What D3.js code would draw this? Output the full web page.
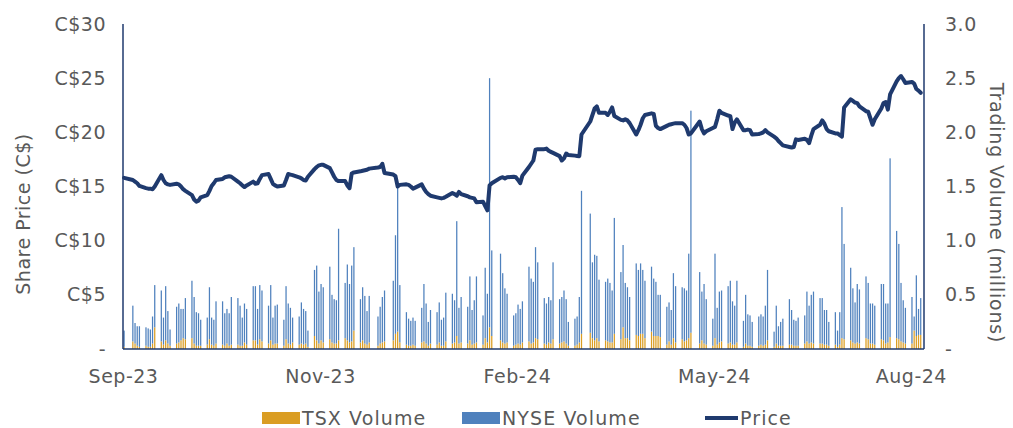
<!DOCTYPE html>
<html>
<head>
<meta charset="utf-8">
<style>
body { margin: 0; background: #fff; }
text { font-family: "DejaVu Sans", sans-serif; fill: #595959; letter-spacing: 0.5px; }
</style>
</head>
<body>
<svg id="chart" width="1013" height="428"></svg>
<script src="https://cdn.jsdelivr.net/npm/d3@7"></script>
<script>
// trading days Sep-23 .. Aug-24 (weekdays, minus these closures)
const startDay = "2023-09-01";
const endDay = "2024-08-30";
const holidays = ["2023-09-04", "2023-12-25", "2024-01-01", "2024-02-19", "2024-03-29", "2024-05-20"];

const tickDates = ["2023-09-01", "2023-11-30", "2024-02-28", "2024-05-28", "2024-08-26"];
const leftTicks = [0, 5, 10, 15, 20, 25, 30];
const rightTicks = [0, 0.5, 1.0, 1.5, 2.0, 2.5, 3.0];

// share price C$, one line per month
const price = [
  15.8, 15.6, 15.45, 15.3, 15.05, 14.85, 14.8, 14.8, 14.75, 15.0, 16.05, 15.6, 15.3, 15.2, 15.15, 15.25, 15.2, 15.0, 14.75, 14.6,
  14.2, 13.8, 13.6, 13.7, 14.0, 14.2, 14.6, 15.05, 15.3, 15.6, 15.7, 15.85, 15.9, 15.95, 15.9, 15.45, 15.3, 15.1, 14.95, 15.1, 15.45, 15.25,
  15.3, 15.7, 16.05, 16.15, 15.7, 15.25, 15.1, 15.0, 15.1, 15.6, 16.15, 16.1, 16.05, 15.85, 15.75, 15.6, 15.55, 15.9, 16.6, 16.8, 16.95, 17.0,
  17.0, 16.7, 16.3, 15.9, 15.6, 15.5, 15.5, 15.1, 14.85, 16.2, 16.3, 16.4, 16.45, 16.5, 16.55, 16.65, 16.75, 16.8, 17.1, 16.25,
  16.1, 15.95, 15.0, 15.15, 15.2, 15.15, 15.0, 14.8, 14.9, 15.2, 14.8, 14.5, 14.3, 14.15, 14.0, 13.95, 13.9, 13.95, 14.05, 14.4, 14.3, 14.15,
  14.5, 14.3, 14.1, 14.0, 13.95, 13.9, 13.55, 13.6, 13.2, 12.8, 15.1, 15.3, 15.8, 15.85, 15.75, 15.85, 15.9, 15.85, 15.6, 15.3,
  16.0, 16.8, 17.1, 17.4, 18.4, 18.45, 18.45, 18.5, 18.3, 18.2, 18.1, 17.8, 17.4, 17.6, 18.05, 17.9, 17.85, 17.82, 17.8, 19.8,
  21.0, 21.6, 22.2, 22.4, 21.8, 21.8, 21.6, 21.9, 22.3, 21.5, 21.15, 21.1, 21.2, 21.1, 20.85, 19.8, 20.2, 20.7, 21.3, 21.6, 21.75, 21.7,
  20.6, 20.4, 20.3, 20.6, 20.7, 20.75, 20.8, 20.85, 20.85, 20.7, 20.4, 19.8, 19.9, 21.0, 20.3, 19.9, 20.1, 20.4, 20.5, 21.2, 22.0, 21.8,
  21.55, 21.5, 20.3, 20.9, 21.2, 20.2, 20.2, 20.25, 20.2, 19.8, 19.85, 19.9, 20.0, 20.2, 20.0, 19.6, 19.45, 19.2, 19.0, 18.8,
  18.65, 18.6, 18.65, 19.35, 19.3, 19.4, 19.3, 19.0, 19.7, 20.3, 20.7, 21.1, 20.8, 20.3, 20.1, 19.9, 19.9, 19.75, 19.6, 22.3, 23.05, 22.9, 22.75,
  22.7, 22.4, 21.95, 21.9, 21.3, 20.7, 21.2, 22.2, 22.7, 22.8, 22.1, 23.5, 24.7, 25.0, 25.2, 24.9, 24.55, 24.65, 24.5, 24.0, 23.85, 23.65
];

// TSX volume, millions
const tsxVolume = [
  0.02, 0.07, 0.05, 0.03, 0.02, 0.03, 0.02, 0.02, 0.05, 0.20, 0.07, 0.04, 0.08, 0.05, 0.03, 0.05, 0.06, 0.08, 0.10, 0.09,
  0.10, 0.05, 0.03, 0.03, 0.03, 0.04, 0.09, 0.04, 0.03, 0.05, 0.04, 0.03, 0.05, 0.03, 0.04, 0.04, 0.03, 0.03, 0.06, 0.04, 0.08, 0.08,
  0.04, 0.09, 0.07, 0.05, 0.08, 0.04, 0.05, 0.05, 0.03, 0.09, 0.05, 0.04, 0.06, 0.04, 0.05, 0.04, 0.05, 0.02, 0.12, 0.08, 0.05, 0.08,
  0.06, 0.09, 0.06, 0.05, 0.05, 0.08, 0.10, 0.08, 0.06, 0.07, 0.17, 0.06, 0.08, 0.05, 0.04, 0.06, 0.03, 0.05, 0.06, 0.07,
  0.08, 0.14, 0.16, 0.06, 0.04, 0.03, 0.03, 0.04, 0.03, 0.06, 0.07, 0.05, 0.03, 0.05, 0.04, 0.06, 0.03, 0.03, 0.07, 0.05, 0.06, 0.12,
  0.05, 0.06, 0.05, 0.08, 0.04, 0.05, 0.06, 0.04, 0.10, 0.06, 0.20, 0.12, 0.08, 0.06, 0.05, 0.06, 0.03, 0.04, 0.05, 0.04,
  0.06, 0.07, 0.05, 0.06, 0.10, 0.09, 0.05, 0.04, 0.06, 0.05, 0.09, 0.05, 0.06, 0.07, 0.05, 0.03, 0.03, 0.04, 0.06, 0.14,
  0.15, 0.10, 0.08, 0.10, 0.07, 0.08, 0.07, 0.06, 0.06, 0.14, 0.09, 0.20, 0.10, 0.10, 0.08, 0.13, 0.12, 0.14, 0.14, 0.10, 0.16, 0.12,
  0.12, 0.12, 0.11, 0.04, 0.07, 0.04, 0.10, 0.06, 0.09, 0.07, 0.08, 0.10, 0.15, 0.05, 0.08, 0.05, 0.04, 0.03, 0.10, 0.04, 0.06, 0.07,
  0.05, 0.06, 0.04, 0.04, 0.06, 0.02, 0.05, 0.03, 0.03, 0.02, 0.03, 0.04, 0.03, 0.04, 0.08, 0.02, 0.05, 0.03, 0.03, 0.03,
  0.04, 0.04, 0.03, 0.03, 0.03, 0.05, 0.07, 0.05, 0.06, 0.05, 0.05, 0.05, 0.04, 0.04, 0.03, 0.04, 0.02, 0.04, 0.10, 0.09, 0.08, 0.06, 0.05,
  0.06, 0.05, 0.10, 0.09, 0.05, 0.05, 0.04, 0.09, 0.08, 0.05, 0.06, 0.11, 0.10, 0.09, 0.07, 0.06, 0.05, 0.05, 0.17, 0.12, 0.13, 0.13
];

// NYSE volume, millions
const nyseVolume = [
  0.15, 0.33, 0.19, 0.18, 0.19, 0.17, 0.17, 0.16, 0.25, 0.39, 0.47, 0.25, 0.50, 0.30, 0.15, 0.34, 0.36, 0.29, 0.27, 0.38,
  0.53, 0.43, 0.31, 0.30, 0.24, 0.25, 0.48, 0.25, 0.24, 0.39, 0.40, 0.30, 0.32, 0.30, 0.44, 0.43, 0.37, 0.26, 0.36, 0.33, 0.50, 0.50,
  0.33, 0.50, 0.47, 0.35, 0.51, 0.25, 0.35, 0.36, 0.24, 0.49, 0.37, 0.34, 0.23, 0.26, 0.38, 0.33, 0.30, 0.15, 0.61, 0.69, 0.48, 0.52,
  0.51, 0.67, 0.44, 0.41, 0.40, 1.03, 0.51, 0.70, 0.54, 0.70, 0.77, 0.40, 0.49, 0.44, 0.31, 0.43, 0.27, 0.34, 0.42, 0.47,
  0.55, 0.91, 1.34, 0.53, 0.30, 0.25, 0.23, 0.25, 0.23, 0.32, 0.53, 0.37, 0.22, 0.31, 0.30, 0.37, 0.24, 0.26, 0.45, 0.46, 0.39, 1.06,
  0.33, 0.42, 0.34, 0.59, 0.32, 0.40, 0.61, 0.27, 0.65, 0.45, 2.30, 0.79, 0.80, 0.64, 0.51, 0.45, 0.28, 0.29, 0.36, 0.33,
  0.38, 0.69, 0.60, 0.56, 0.84, 0.71, 0.42, 0.38, 0.42, 0.40, 0.71, 0.41, 0.42, 0.47, 0.41, 0.22, 0.25, 0.26, 0.42, 1.32,
  1.10, 0.70, 0.79, 0.76, 0.57, 0.54, 0.58, 0.55, 0.48, 1.07, 0.62, 0.76, 0.51, 0.47, 0.40, 0.66, 0.61, 0.65, 0.59, 0.53, 0.60, 0.53,
  0.50, 0.38, 0.39, 0.35, 0.36, 0.32, 0.60, 0.52, 0.48, 0.49, 0.46, 0.78, 2.05, 0.66, 0.45, 0.55, 0.42, 0.25, 0.78, 0.34, 0.47, 0.47,
  0.53, 0.57, 0.40, 0.36, 0.57, 0.24, 0.45, 0.29, 0.28, 0.23, 0.27, 0.28, 0.27, 0.36, 0.65, 0.14, 0.35, 0.18, 0.22, 0.25,
  0.42, 0.32, 0.24, 0.23, 0.26, 0.26, 0.46, 0.35, 0.44, 0.48, 0.42, 0.42, 0.32, 0.32, 0.22, 0.30, 0.15, 0.30, 1.21, 0.88, 0.67, 0.50, 0.38,
  0.54, 0.50, 0.57, 0.52, 0.37, 0.37, 0.36, 0.51, 0.52, 0.37, 0.36, 1.65, 0.99, 0.88, 0.54, 0.39, 0.33, 0.43, 0.13, 0.56, 0.24, 0.34
];

const navy = "#1f3a6e";
const tsxColor = "#da9d23";
const nyseColor = "#4f81bd";
const fontSize = "19px";

const parse = d3.timeParse("%Y-%m-%d");
const fmt = d3.timeFormat("%Y-%m-%d");
const closed = new Set(holidays);
const days = d3.timeDay.range(parse(startDay), d3.timeDay.offset(parse(endDay), 1))
    .filter(d => d.getDay() !== 0 && d.getDay() !== 6 && !closed.has(fmt(d)));

const rows = days.map((d, i) => ({
    date: d,
    price: price[i],
    tsx: tsxVolume[i],
    nyse: nyseVolume[i]
})).filter(r => r.price !== undefined);

const plotLeft = 123, plotRight = 924, plotTop = 24, plotBottom = 349;
const svg = d3.select("#chart");

const x = d3.scaleTime()
    .domain([parse("2023-09-01"), parse("2024-09-01")])
    .range([plotLeft, plotRight]);
const yPrice = d3.scaleLinear().domain([0, 30]).range([plotBottom, plotTop]);
const yVol = d3.scaleLinear().domain([0, 3]).range([plotBottom, plotTop]);
const mid = d => x(d3.timeHour.offset(d, 12));
const barW = 1.25;

// volume bars (stacked: TSX under NYSE)
svg.append("g").selectAll("rect.tsx")
    .data(rows)
    .enter()
    .append("rect")
    .attr("x", d => mid(d.date) - barW / 2)
    .attr("width", barW)
    .attr("y", d => yVol(d.tsx))
    .attr("height", d => plotBottom - yVol(d.tsx))
    .style("fill", tsxColor);

svg.append("g").selectAll("rect.nyse")
    .data(rows)
    .enter()
    .append("rect")
    .attr("x", d => mid(d.date) - barW / 2)
    .attr("width", barW)
    .attr("y", d => yVol(d.tsx + d.nyse))
    .attr("height", d => yVol(d.tsx) - yVol(d.tsx + d.nyse))
    .style("fill", nyseColor);

// price line
const line = d3.line()
    .x(d => mid(d.date))
    .y(d => yPrice(d.price));
svg.append("path")
    .datum(rows)
    .attr("d", line)
    .style("fill", "none")
    .style("stroke", navy)
    .style("stroke-width", 4)
    .style("stroke-linejoin", "round")
    .style("stroke-linecap", "round");

// axes
const leftAxis = svg.append("g")
    .attr("transform", "translate(" + plotLeft + ",0)")
    .call(d3.axisLeft(yPrice).tickValues(leftTicks).tickSize(0).tickPadding(17)
        .tickFormat(v => v === 0 ? "-" : "C$" + v));
const rightAxis = svg.append("g")
    .attr("transform", "translate(" + plotRight + ",0)")
    .call(d3.axisRight(yVol).tickValues(rightTicks).tickSize(0).tickPadding(21)
        .tickFormat(v => v === 0 ? "-" : d3.format(".1f")(v)));
const bottomAxis = svg.append("g")
    .attr("transform", "translate(0," + plotBottom + ")")
    .call(d3.axisBottom(x).tickValues(tickDates.map(parse)).tickSize(0).tickPadding(21)
        .tickFormat(d3.timeFormat("%b-%y")));

[leftAxis, rightAxis, bottomAxis].forEach(g => {
    g.select(".domain").remove();
    g.selectAll("text")
        .attr("font-family", "DejaVu Sans")
        .attr("font-size", fontSize)
        .style("fill", "#595959");
});

svg.append("line").attr("x1", plotLeft).attr("x2", plotLeft).attr("y1", plotTop).attr("y2", plotBottom)
    .style("stroke", navy).style("stroke-width", 1.5);
svg.append("line").attr("x1", plotRight).attr("x2", plotRight).attr("y1", plotTop).attr("y2", plotBottom)
    .style("stroke", navy).style("stroke-width", 1.5);
svg.append("line").attr("x1", plotLeft).attr("x2", plotRight).attr("y1", plotBottom).attr("y2", plotBottom)
    .style("stroke", navy).style("stroke-width", 1.5);

// axis titles
svg.append("text")
    .attr("transform", "translate(30,214) rotate(-90)")
    .attr("text-anchor", "middle")
    .attr("font-size", fontSize)
    .text("Share Price (C$)");
svg.append("text")
    .attr("transform", "translate(990,213) rotate(90)")
    .attr("text-anchor", "middle")
    .attr("font-size", fontSize)
    .style("letter-spacing", "0.8px")
    .text("Trading Volume (millions)");

// legend
const legend = svg.append("g").attr("font-size", fontSize);
legend.append("rect").attr("x", 262).attr("y", 412).attr("width", 38).attr("height", 12).style("fill", tsxColor);
legend.append("text").attr("x", 302).attr("y", 425).style("letter-spacing", "1.1px").text("TSX Volume");
legend.append("rect").attr("x", 462).attr("y", 412).attr("width", 38).attr("height", 12).style("fill", nyseColor);
legend.append("text").attr("x", 502).attr("y", 425).style("letter-spacing", "1.1px").text("NYSE Volume");
legend.append("line").attr("x1", 705).attr("x2", 738).attr("y1", 418).attr("y2", 418)
    .style("stroke", navy).style("stroke-width", 4);
legend.append("text").attr("x", 740).attr("y", 425).style("letter-spacing", "1.1px").text("Price");
</script>
</body>
</html>
